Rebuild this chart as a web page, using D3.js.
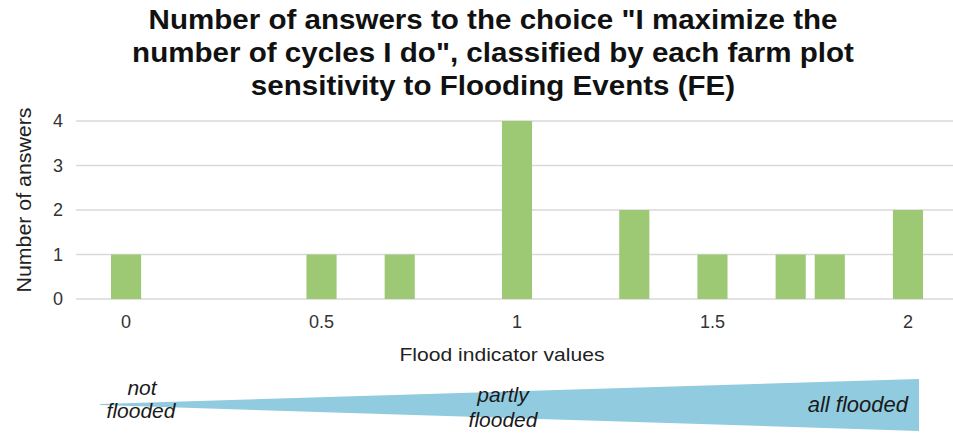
<!DOCTYPE html>
<html>
<head>
<meta charset="utf-8">
<script src="https://cdn.jsdelivr.net/npm/d3@7"></script>
<style>
  body { margin: 0; background: #fff; }
  svg { display: block; font-family: "Liberation Sans", Arial, sans-serif; }
</style>
</head>
<body>
<svg id="chart" width="953" height="435"></svg>
<script>
// ===== DADOS =====

const titleLines = [
  'Number of answers to the choice "I maximize the',
  'number of cycles I do", classified by each farm plot',
  "sensitivity to Flooding Events (FE)"
];

// categorias do eixo x (indicador de cheia)
const categories = [
  "0", "0.1", "0.2", "0.3", "0.4", "0.5", "0.6", "0.7", "0.8", "0.9", "1",
  "1.1", "1.2", "1.3", "1.4", "1.5", "1.6", "1.7", "1.8", "1.9", "2"
];
const answers = [1, 0, 0, 0, 0, 1, 0, 1, 0, 0, 4, 0, 0, 2, 0, 1, 0, 1, 1, 0, 2];

const xTickLabels = ["0", "0.5", "1", "1.5", "2"];
const yTicks = [0, 1, 2, 3, 4];

// ===== ESCALAS =====

const svg = d3.select("#chart");
const W = 953;

const x = d3.scaleBand().domain(categories).range([106.5, 927.5]).paddingInner(0.23).paddingOuter(0.115);
const y = d3.scaleLinear().domain([0, 4]).range([299, 121]);

// ===== TITULO =====

svg.append("g")
  .attr("transform", "translate(493,0) scale(1.095,1)")
  .selectAll("text")
  .data(titleLines)
  .join("text")
  .attr("x", 0)
  .attr("y", (d, i) => 29 + i * 33)
  .attr("text-anchor", "middle")
  .attr("font-size", 27)
  .attr("font-weight", "bold")
  .attr("fill", "#111")
  .text(d => d);

// ===== GRELHA E EIXO Y =====

svg.append("g")
  .selectAll("line")
  .data(yTicks)
  .join("line")
  .attr("x1", 76)
  .attr("x2", W)
  .attr("y1", d => y(d))
  .attr("y2", d => y(d))
  .attr("stroke", "#d9d9d9")
  .attr("stroke-width", 1.5);

svg.append("g")
  .selectAll("text")
  .data(yTicks)
  .join("text")
  .attr("x", 63)
  .attr("y", d => y(d) + 6)
  .attr("text-anchor", "end")
  .attr("font-size", 18)
  .attr("fill", "#333")
  .text(d => d);

svg.append("text")
  .attr("transform", "translate(31,200) rotate(-90)")
  .attr("text-anchor", "middle")
  .attr("font-size", 20)
  .attr("textLength", 185)
  .attr("lengthAdjust", "spacingAndGlyphs")
  .attr("fill", "#222")
  .text("Number of answers");

// ===== BARRAS =====

svg.append("g")
  .selectAll("rect")
  .data(categories.map((c, i) => ({ c, v: answers[i] })).filter(d => d.v > 0))
  .join("rect")
  .attr("x", d => x(d.c))
  .attr("width", x.bandwidth())
  .attr("y", d => y(d.v))
  .attr("height", d => y(0) - y(d.v))
  .attr("fill", "#9dc874");

// ===== EIXO X =====

svg.append("g")
  .selectAll("text")
  .data(xTickLabels)
  .join("text")
  .attr("x", d => x(d) + x.bandwidth() / 2)
  .attr("y", 328)
  .attr("text-anchor", "middle")
  .attr("font-size", 18)
  .attr("fill", "#333")
  .text(d => d);

svg.append("text")
  .attr("x", 502)
  .attr("y", 361)
  .attr("text-anchor", "middle")
  .attr("font-size", 19)
  .attr("textLength", 205)
  .attr("lengthAdjust", "spacingAndGlyphs")
  .attr("fill", "#222")
  .text("Flood indicator values");

// ===== CUNHA (nivel de cheia) =====

const wx = d3.scaleLinear().domain([0, 2]).range([100, 919]);
const wTop = d3.scaleLinear().domain([0, 2]).range([404, 379]);
const wBot = d3.scaleLinear().domain([0, 2]).range([405, 431]);

svg.append("path")
  .attr("d", d3.line()([
    [wx(0), wTop(0)], [wx(2), wTop(2)], [wx(2), wBot(2)], [wx(0), wBot(0)]
  ]) + "Z")
  .attr("fill", "#90cbe0");

const lab = svg.append("g")
  .attr("font-size", 21)
  .attr("font-style", "italic")
  .attr("fill", "#1a1a1a");

lab.append("text").attr("x", 142).attr("y", 395).attr("text-anchor", "middle").text("not");
lab.append("text").attr("x", 141).attr("y", 418).attr("text-anchor", "middle").text("flooded");
lab.append("text").attr("x", 503).attr("y", 402).attr("text-anchor", "middle").text("partly");
lab.append("text").attr("x", 503).attr("y", 427).attr("text-anchor", "middle").text("flooded");
lab.append("text").attr("x", 908).attr("y", 412).attr("text-anchor", "end").attr("font-size", 22).text("all flooded");
</script>
</body>
</html>
